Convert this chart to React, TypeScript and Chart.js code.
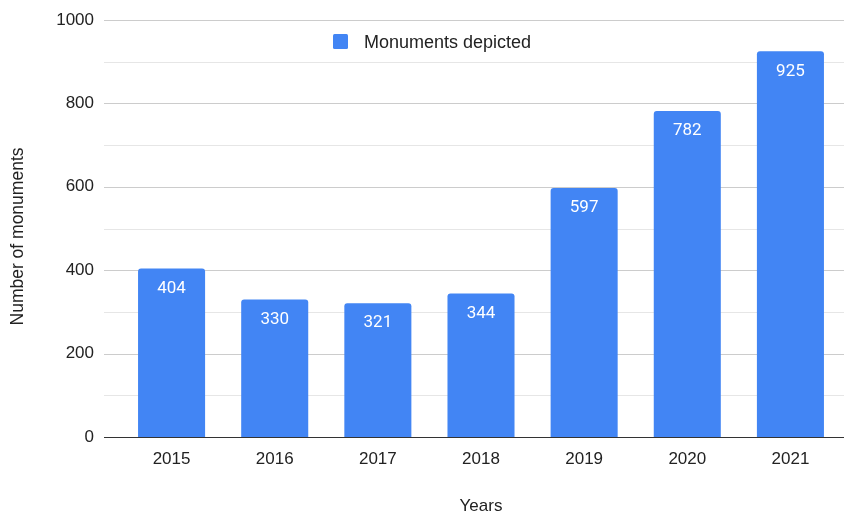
import React, { useEffect, useRef } from "react";
import { Chart, registerables } from "chart.js";

Chart.register(...registerables);

const years = ["2015", "2016", "2017", "2018", "2019", "2020", "2021"];
const monuments = [404, 330, 321, 344, 597, 782, 925];
const seriesLabel = "Monuments depicted";
const yTitle = "Number of monuments";
const xTitle = "Years";

const FONT = "'Liberation Sans', Arial, sans-serif";
const LABEL_FONT = "Roboto, 'Liberation Sans', Arial, sans-serif";
const BLUE = "#4285F4";

export default function App() {
  const ref = useRef<HTMLCanvasElement | null>(null);
  useEffect(() => {
    document.body.style.margin = "0";
    const canvas = ref.current!;
    const gridPlugin = {
      id: "gridExt",
      beforeDatasetsDraw(chart: any) {
        const { ctx, chartArea } = chart;
        const ys = chart.scales.y;
        const left = chartArea.left - 16;
        const right = chartArea.right + 2;
        ctx.save();
        ys.ticks.forEach((t: any) => {
          const y = Math.round(ys.getPixelForValue(t.value)) + 0.5;
          ctx.beginPath();
          ctx.lineWidth = 1;
          ctx.strokeStyle = t.value === 0 ? "#333333" : t.value % 200 === 0 ? "#cccccc" : "#e6e6e6";
          ctx.moveTo(left, y);
          ctx.lineTo(right, y);
          ctx.stroke();
        });
        ctx.restore();
      },
      afterDatasetsDraw(chart: any) {
        const { ctx, chartArea } = chart;
        const ys = chart.scales.y;
        const meta = chart.getDatasetMeta(0);
        ctx.save();
        ctx.fillStyle = "#ffffff";
        ctx.font = `17px ${LABEL_FONT}`;
        ctx.textAlign = "center";
        ctx.textBaseline = "middle";
        meta.data.forEach((bar: any, i: number) => {
          ctx.fillText(String(monuments[i]), bar.x, bar.y + 20);
        });
        const y0 = Math.round(ys.getPixelForValue(0)) + 0.5;
        ctx.beginPath();
        ctx.strokeStyle = "#333333";
        ctx.moveTo(chartArea.left - 16, y0);
        ctx.lineTo(chartArea.right + 2, y0);
        ctx.stroke();
        // legend
        const lx = 333;
        const ly = 42;
        ctx.fillStyle = BLUE;
        ctx.beginPath();
        if ((ctx as any).roundRect) (ctx as any).roundRect(lx, ly - 8, 15, 15, 1.5);
        else ctx.rect(lx, ly - 8, 15, 15);
        ctx.fill();
        ctx.fillStyle = "#222222";
        ctx.textAlign = "left";
        ctx.font = `18px ${FONT}`;
        ctx.fillText(seriesLabel, lx + 31, ly + 1);
        // y axis title
        const cy = (chartArea.top + chartArea.bottom) / 2 + 8;
        ctx.translate(18, cy);
        ctx.rotate(-Math.PI / 2);
        ctx.textAlign = "center";
        ctx.font = `17.5px ${FONT}`;
        ctx.fillText(yTitle, 0, 0);
        ctx.restore();
      },
    };
    const chart = new Chart(canvas, {
      type: "bar",
      data: {
        labels: years,
        datasets: [
          {
            label: seriesLabel,
            data: monuments,
            backgroundColor: BLUE,
            borderRadius: { topLeft: 3, topRight: 3, bottomLeft: 0, bottomRight: 0 },
            borderSkipped: "bottom",
            barPercentage: 0.65,
            categoryPercentage: 1,
          },
        ],
      },
      options: {
        responsive: false,
        animation: false,
        layout: { padding: { top: 20, right: 3, left: 0, bottom: 0 } },
        plugins: {
          legend: { display: false },
          tooltip: { enabled: false },
        },
        scales: {
          x: {
            grid: { display: false },
            border: { display: false },
            ticks: { color: "#222222", font: { family: FONT, size: 17 }, padding: 4 },
            title: {
              display: true,
              text: xTitle,
              color: "#222222",
              font: { family: FONT, size: 17 },
              padding: { top: 26, bottom: -5 },
            },
            afterFit(scale: any) {
              scale.height = 75;
              scale.paddingLeft = 0;
              scale.paddingRight = 0;
            },
          },
          y: {
            min: 0,
            max: 1000,
            grid: { display: false },
            border: { display: false },
            ticks: {
              stepSize: 100,
              color: "#222222",
              font: { family: FONT, size: 17 },
              padding: 18,
              callback: (v: any) => (Number(v) % 200 === 0 ? String(v) : ""),
            },
            title: { display: false, text: yTitle },
            afterFit(scale: any) {
              scale.width = 120;
              scale.paddingTop = 0;
              scale.paddingBottom = 0;
            },
          },
        },
      },
      plugins: [gridPlugin],
    });
    return () => chart.destroy();
  }, []);
  return <canvas ref={ref} width={845} height={512} style={{ display: "block" }} />;
}
